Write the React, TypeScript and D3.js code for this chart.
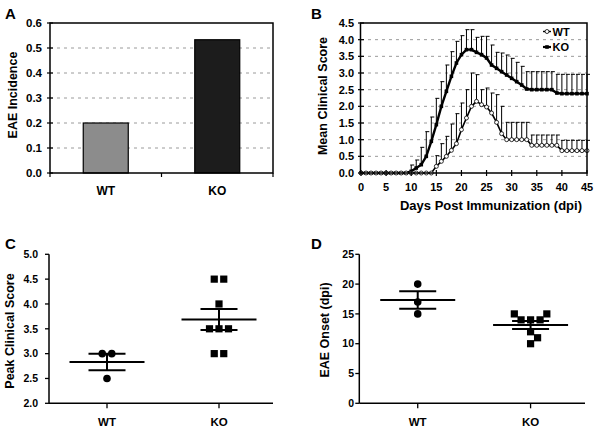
import React from 'react';
import * as d3 from 'd3';

// ---------- Data ----------
const barCats = ['WT', 'KO'];
const incidence = [0.2, 0.533];
const incTicks = [0, 0.1, 0.2, 0.3, 0.4, 0.5, 0.6];

const dayTicks = [0, 5, 10, 15, 20, 25, 30, 35, 40, 45];
const scoreTicks = [0, 0.5, 1, 1.5, 2, 2.5, 3, 3.5, 4, 4.5];
const koMean = [
  0, 0, 0, 0, 0, 0, 0, 0, 0, 0,
  0.05, 0.15, 0.25, 0.5, 0.95, 1.45, 2.0, 2.45, 2.9, 3.3,
  3.55, 3.7, 3.7, 3.62, 3.55, 3.45, 3.24, 3.14, 3.04, 2.94,
  2.84, 2.74, 2.64, 2.52, 2.5, 2.5, 2.5, 2.5, 2.5, 2.4,
  2.38, 2.38, 2.38, 2.38, 2.38, 2.38,
];
const koSem = [
  0, 0, 0, 0, 0, 0, 0, 0, 0, 0,
  0.19, 0.24, 0.52, 0.74, 0.73, 0.79, 0.74, 0.79, 0.74, 0.65,
  0.57, 0.6, 0.6, 0.45, 0.55, 0.65, 0.6, 0.48, 0.56, 0.6,
  0.6, 0.58, 0.56, 0.52, 0.54, 0.54, 0.54, 0.54, 0.54, 0.56,
  0.58, 0.58, 0.58, 0.58, 0.58, 0.58,
];
const wtMean = [
  0, 0, 0, 0, 0, 0, 0, 0, 0, 0,
  0, 0, 0, 0, 0, 0.2, 0.35, 0.5, 0.68, 0.88,
  1.3, 1.65, 2.0, 2.15, 2.05, 1.98, 1.8, 1.52, 1.18, 1.0,
  1.0, 1.0, 1.0, 1.0, 0.83, 0.83, 0.83, 0.83, 0.83, 0.83,
  0.67, 0.67, 0.67, 0.67, 0.67, 0.67,
];
const wtSem = [
  0, 0, 0, 0, 0, 0, 0, 0, 0, 0,
  0, 0, 0, 0, 0, 0.32, 0.53, 0.6, 0.79, 0.9,
  0.8, 0.85, 1.0, 0.8, 0.45, 0.57, 0.6, 0.83, 0.82, 0.52,
  0.52, 0.52, 0.52, 0.52, 0.31, 0.31, 0.31, 0.31, 0.31, 0.31,
  0.31, 0.31, 0.31, 0.31, 0.31, 0.31,
];

const peakWT = [3, 3, 2.5];
const peakKO = [4.5, 4.5, 4, 3.5, 3.5, 3.5, 3, 3];
const peakTicks = [2, 2.5, 3, 3.5, 4, 4.5, 5];

const onsetWT = [20, 17, 15];
const onsetKO = [15, 15, 14, 14, 14, 12, 11, 10];
const onsetTicks = [0, 5, 10, 15, 20, 25];

// ---------- helpers ----------
const FONT = '"Liberation Sans", Arial, Helvetica, sans-serif';
const f1 = d3.format('.1f');
const f0 = d3.format('d');

function swarm(values: number[], y: (v: number) => number, spacing = 9.5, minDist = 9) {
  const groups = d3
    .groups(values.map((v, i) => ({ v, i })), (d) => d.v)
    .sort((a, b) => b[1].length - a[1].length || b[0] - a[0]);
  const placed: { x: number; y: number }[] = [];
  const offsets = new Array(values.length).fill(0);
  const ok = (x: number, yy: number) => placed.every((p) => Math.hypot(p.x - x, p.y - yy) >= minDist - 1e-6);
  for (const [v, items] of groups) {
    const n = items.length;
    const yy = y(v);
    let xs: number[] = items.map(() => 0);
    for (let k = 0; k < 200; k++) {
      const g = k * 0.5;
      let cands: number[][];
      if (n % 2 === 0) {
        cands = [items.map((_, j) => { const h = j - (n - 1) / 2; return h * spacing + Math.sign(h) * g; })];
      } else {
        cands = [
          items.map((_, j) => (j - (n - 1) / 2) * spacing + g),
          items.map((_, j) => (j - (n - 1) / 2) * spacing - g),
        ];
      }
      const found = cands.find((c) => c.every((x) => ok(x, yy)));
      if (found) { xs = found; break; }
    }
    items.forEach((it, j) => { offsets[it.i] = xs[j]; placed.push({ x: xs[j], y: yy }); });
  }
  return offsets;
}

const GRID = { stroke: '#9a9a9a', strokeWidth: 1, strokeDasharray: '3,4' };

function PanelA() {
  const x0 = 50, x1 = 273, yT = 23, yB = 173;
  const y = d3.scaleLinear().domain([0, 0.6]).range([yB, yT]);
  const x = d3.scalePoint<string>().domain(barCats).range([x0, x1]).padding(0.5);
  const bw = 45;
  const colors = ['#8c8c8c', '#1c1c1c'];
  return (
    <g>
      {incTicks.slice(1, -1).map((t) => (
        <line key={t} x1={x0} x2={x1} y1={y(t)} y2={y(t)} {...GRID} />
      ))}
      {barCats.map((c, i) => (
        <rect key={c} x={x(c)! - bw / 2} y={y(incidence[i])} width={bw} height={y(0) - y(incidence[i])}
          fill={colors[i]} stroke="#000" strokeWidth={1.2} />
      ))}
      <rect x={x0} y={yT} width={x1 - x0} height={yB - yT} fill="none" stroke="#000" strokeWidth={1.5} />
      {incTicks.map((t) => (
        <g key={t}>
          <line x1={x0 - 3} x2={x0 + 3} y1={y(t)} y2={y(t)} stroke="#000" strokeWidth={1.2} />
          <text x={42} y={y(t) + 4} textAnchor="end" fontSize={11.5} fontWeight="bold">{f1(t)}</text>
        </g>
      ))}
      {[x0, (x0 + x1) / 2, x1].map((t) => (
        <line key={t} x1={t} x2={t} y1={yB} y2={yB + 4} stroke="#000" strokeWidth={1.2} />
      ))}
      {barCats.map((c) => (
        <text key={c} x={x(c)} y={195} textAnchor="middle" fontSize={12} fontWeight="bold">{c}</text>
      ))}
      <text transform={`translate(16.5,95) rotate(-90)`} textAnchor="middle" fontSize={12.5} fontWeight="bold">EAE Incidence</text>
      <text x={5} y={18.5} fontSize={15} fontWeight="bold">A</text>
    </g>
  );
}

function PanelB() {
  const x0 = 361, x1 = 587, yT = 23, yB = 173;
  const x = d3.scaleLinear().domain([0, 45]).range([x0, x1]);
  const y = d3.scaleLinear().domain([0, 4.5]).range([yB, yT]);
  const line = d3.line<number>().x((_, i) => x(i)).y((d) => y(d));
  const series = [
    { name: 'KO', mean: koMean, sem: koSem, w: 2.4 },
    { name: 'WT', mean: wtMean, sem: wtSem, w: 1.6 },
  ];
  return (
    <g>
      {scoreTicks.slice(1, -1).map((t) => (
        <line key={t} x1={x0} x2={x1} y1={y(t)} y2={y(t)} {...GRID} />
      ))}
      {series.map((s) => (
        <g key={s.name + 'err'}>
          {s.mean.map((m, i) => s.sem[i] > 0 ? (
            <g key={i}>
              <line x1={x(i)} x2={x(i)} y1={y(m)} y2={y(m + s.sem[i])} stroke="#000" strokeWidth={1} />
              <line x1={x(i) - 1} x2={x(i) + 3} y1={y(m + s.sem[i])} y2={y(m + s.sem[i])} stroke="#000" strokeWidth={1} />
            </g>
          ) : null)}
        </g>
      ))}
      {series.map((s) => (
        <path key={s.name} d={line(s.mean)!} fill="none" stroke="#000" strokeWidth={s.w} />
      ))}
      {koMean.map((m, i) => (
        <rect key={'k' + i} x={x(i) - 1.8} y={y(m) - 1.8} width={3.6} height={3.6} fill="#000" />
      ))}
      {wtMean.map((m, i) => (
        <circle key={'w' + i} cx={x(i)} cy={y(m)} r={2} fill="#fff" stroke="#000" strokeWidth={0.8} />
      ))}
      <rect x={x0 - 0.5} y={yT} width={x1 - x0 + 0.5} height={yB - yT} fill="none" stroke="#000" strokeWidth={1.5} />
      {scoreTicks.map((t) => (
        <g key={t}>
          <line x1={x0 - 3} x2={x0 + 3} y1={y(t)} y2={y(t)} stroke="#000" strokeWidth={1.2} />
          <text x={354} y={y(t) + 4} textAnchor="end" fontSize={11} fontWeight="bold">{f1(t)}</text>
        </g>
      ))}
      {dayTicks.map((t) => (
        <g key={t}>
          <line x1={x(t)} x2={x(t)} y1={yB - 3} y2={yB + 3} stroke="#000" strokeWidth={1.2} />
          <text x={x(t)} y={190.5} textAnchor="middle" fontSize={11} fontWeight="bold">{f0(t)}</text>
        </g>
      ))}
      {/* legend */}
      <line x1={543} x2={551} y1={31.5} y2={31.5} stroke="#000" strokeWidth={1.4} />
      <circle cx={547} cy={31.5} r={2} fill="#fff" stroke="#000" strokeWidth={0.8} />
      <text x={552.5} y={35.5} fontSize={11} fontWeight="bold">WT</text>
      <line x1={543} x2={551} y1={47} y2={47} stroke="#000" strokeWidth={2.2} />
      <rect x={545.2} y={45.2} width={3.6} height={3.6} fill="#000" />
      <text x={552.5} y={51} fontSize={11} fontWeight="bold">KO</text>
      <text x={491} y={210} textAnchor="middle" fontSize={13} fontWeight="bold">Days Post Immunization (dpi)</text>
      <text transform={`translate(327,96) rotate(-90)`} textAnchor="middle" fontSize={12.5} fontWeight="bold">Mean Clinical Score</text>
      <text x={311} y={18.5} fontSize={15} fontWeight="bold">B</text>
    </g>
  );
}

function Scatter(props: {
  x0: number; x1: number; yT: number; yB: number; domain: [number, number]; ticks: number[];
  fmt: (n: number) => string; wt: number[]; ko: number[]; labelX: number; tickLabelX: number;
  label: string; letter: string; letterX: number; labelY: number;
}) {
  const { x0, x1, yT, yB, domain, ticks, fmt, wt, ko } = props;
  const y = d3.scaleLinear().domain(domain).range([yB, yT]);
  const x = d3.scalePoint<string>().domain(barCats).range([x0 + 2, x1 + 2]).padding(0.5);
  const groups = [
    { name: 'WT', vals: wt, shape: 'circle' },
    { name: 'KO', vals: ko, shape: 'square' },
  ];
  return (
    <g>
      {groups.map((g) => {
        const cx = x(g.name)!;
        const offs = swarm(g.vals, y);
        const m = d3.mean(g.vals)!;
        const sem = d3.deviation(g.vals)! / Math.sqrt(g.vals.length);
        return (
          <g key={g.name}>
            {g.vals.map((v, i) => g.shape === 'circle' ? (
              <circle key={i} cx={cx + offs[i]} cy={y(v)} r={3.8} fill="#000" />
            ) : (
              <rect key={i} x={cx + offs[i] - 3.6} y={y(v) - 3.6} width={7.2} height={7.2} fill="#000" />
            ))}
            <line x1={cx - 37.5} x2={cx + 37.5} y1={y(m)} y2={y(m)} stroke="#000" strokeWidth={2} />
            <line x1={cx} x2={cx} y1={y(m - sem)} y2={y(m + sem)} stroke="#000" strokeWidth={2} />
            <line x1={cx - 18.5} x2={cx + 18.5} y1={y(m + sem)} y2={y(m + sem)} stroke="#000" strokeWidth={2} />
            <line x1={cx - 18.5} x2={cx + 18.5} y1={y(m - sem)} y2={y(m - sem)} stroke="#000" strokeWidth={2} />
          </g>
        );
      })}
      <line x1={x0} x2={x0} y1={yT} y2={yB} stroke="#000" strokeWidth={1.5} />
      <line x1={x0} x2={x1} y1={yB} y2={yB} stroke="#000" strokeWidth={1.5} />
      {ticks.map((t) => (
        <g key={t}>
          <line x1={x0 - 4} x2={x0} y1={y(t)} y2={y(t)} stroke="#000" strokeWidth={1.3} />
          <text x={props.tickLabelX} y={y(t) + 3.7} textAnchor="end" fontSize={10.5} fontWeight="bold">{fmt(t)}</text>
        </g>
      ))}
      {barCats.map((c) => (
        <g key={c}>
          <line x1={x(c)} x2={x(c)} y1={yB} y2={yB + 5} stroke="#000" strokeWidth={1.3} />
          <text x={x(c)} y={426} textAnchor="middle" fontSize={11.5} fontWeight="bold">{c}</text>
        </g>
      ))}
      <text transform={`translate(${props.labelX},${props.labelY}) rotate(-90)`} textAnchor="middle" fontSize={12.5} fontWeight="bold">{props.label}</text>
      <text x={props.letterX} y={248.5} fontSize={15} fontWeight="bold">{props.letter}</text>
    </g>
  );
}

export default function App() {
  return (
    <svg width={600} height={434} viewBox="0 0 600 434"
      style={{ position: 'absolute', left: 0, top: 0, background: '#fff', fontFamily: FONT }}>
      <rect width={600} height={434} fill="#fff" />
      <PanelA />
      <PanelB />
      <Scatter x0={49} x1={273} yT={254.3} yB={403.3} domain={[2, 5]} ticks={peakTicks} fmt={f1}
        wt={peakWT} ko={peakKO} labelX={13.5} labelY={331} tickLabelX={38} label="Peak Clinical Score"
        letter="C" letterX={5} />
      <Scatter x0={359.3} x1={585} yT={254.3} yB={403.3} domain={[0, 25]} ticks={onsetTicks} fmt={f0}
        wt={onsetWT} ko={onsetKO} labelX={329} labelY={330} tickLabelX={354} label="EAE Onset (dpi)"
        letter="D" letterX={311} />
    </svg>
  );
}
